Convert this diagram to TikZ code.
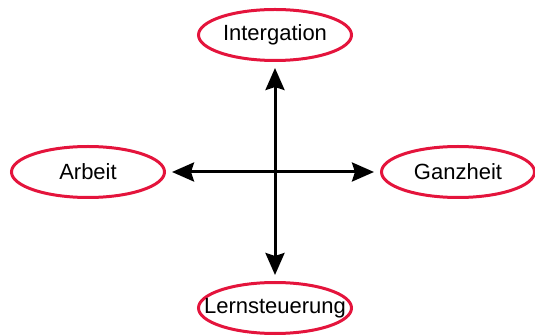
\documentclass[tikz,border=0pt]{standalone}
\usepackage{fontspec}
\setmainfont{Liberation Sans}
\usepackage{xcolor}
\usepackage{tikz}
\usetikzlibrary{positioning}
\usetikzlibrary{arrows.meta,shapes}
\definecolor{ringred}{RGB}{228,20,60}
\tikzstyle{topic}=[ellipse,draw=ringred,line width=3pt,minimum width=153pt,minimum height=51pt,inner sep=0pt,font=\fontsize{22}{26}\selectfont]
\tikzset{dbl/.style={{Stealth[length=22pt,width=19pt,inset=3pt]}-{Stealth[length=22pt,width=19pt,inset=3pt]},line width=3pt,shorten <=6pt,shorten >=6pt}}

\begin{document}
\begin{tikzpicture}[x=1pt,y=-1pt]
    \useasboundingbox (0,0) rectangle (535,336);

    \foreach \pos/\name/\txt in {{(275,35)/integ/Intergation}, {(88,172)/arbeit/Arbeit}, {(458,172)/ganz/Ganzheit}, {(275,308)/lern/Lernsteuerung}}
        \node[topic] (\name) at \pos {\makebox[70pt]{\txt}};

    \draw[dbl] (integ) -- (lern);
    \draw[dbl] (arbeit) -- (ganz);

\end{tikzpicture}
\end{document}
